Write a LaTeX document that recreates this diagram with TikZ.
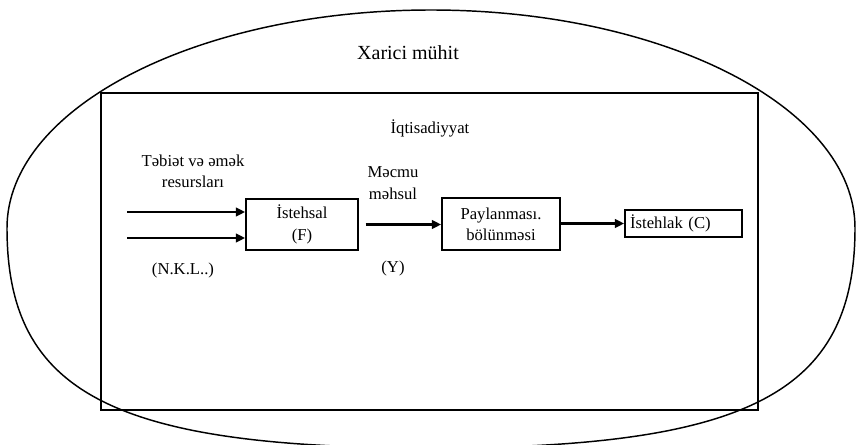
\documentclass[tikz,border=0pt]{standalone}
\usepackage{fontspec}
\setmainfont{Liberation Serif}
\usetikzlibrary{arrows.meta}
\begin{document}
\begin{tikzpicture}[x=0.75pt,y=-0.75pt,
  blk/.style={draw, line width=1.3pt, inner sep=0pt, align=center,
    font=\fontsize{12.5}{15}\selectfont},
  flow/.style={line width=2pt, -{Triangle[length=7pt,width=6.5pt]}},
  lbl/.style={inner sep=0pt, align=center, font=\fontsize{12.5}{15}\selectfont}]
  \useasboundingbox (0,0) rectangle (857,445);
  \clip (0,0) rectangle (857,445);

  % outer environment: elliptic top, slightly fuller bottom
  \draw[line width=1.1pt]
    (855,228) .. controls (855,108) and (665,10) .. (431,10)
              .. controls (197,10) and (7,108) .. (7,228)
              .. controls (7,393) and (113,448) .. (431,448)
              .. controls (749,448) and (855,393) .. (855,228) -- cycle;

  % economy frame
  \draw[line width=1.4pt] (101,93) rectangle (758,410);
  \node[lbl, font=\fontsize{15}{18}\selectfont] (env) at (408,53) {Xarici mühit};
  \node[lbl] (econ) at (430,128) {İqtisadiyyat};

  % blocks
  \node[blk, minimum width=84pt, minimum height=38pt] (prod) at (302,224.5)
    {İstehsal\\[1pt](F)};
  \node[blk, minimum width=88.5pt, minimum height=39pt] (dist) at (501,224)
    {Paylanması.\\[1pt]bölünməsi};
  \node[blk, minimum width=87.75pt, minimum height=20.5pt, align=left,
        text width=80pt] (cons) at (683.5,223.5)
    {İstehlak (C)};

  % inputs
  \coordinate (in1) at (127,212);
  \coordinate (in2) at (127,238);
  \draw[flow] (in1) -- (in1 -| prod.west);
  \draw[flow] (in2) -- (in2 -| prod.west);
  \node[lbl] (res) at (193,171) {Təbiət və əmək\\[1pt]resursları};
  \node[lbl] (nkl) at (183,270) {(N.K.L..)};

  % flows between blocks
  \draw[flow, shorten <=5pt] (prod.east) -- (prod.east -| dist.west);
  \draw[flow] (dist.east |- cons.west) -- (cons.west);
  \node[lbl] (gdp) at (393,183) {Məcmu\\[1pt]məhsul};
  \node[lbl] (y) at (393,268) {(Y)};
\end{tikzpicture}
\end{document}
